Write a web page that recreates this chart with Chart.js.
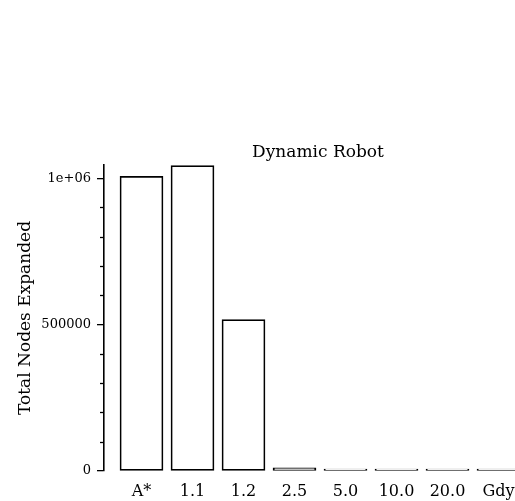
<!DOCTYPE html>
<html>
<head>
<meta charset="utf-8">
<script src="https://cdn.jsdelivr.net/npm/chart.js@4.4.1/dist/chart.umd.min.js"></script>
<style>
  html, body { margin: 0; padding: 0; background: #fff; overflow: hidden; }
  #wrap { width: 515px; height: 501px; overflow: hidden; }
</style>
</head>
<body>
<div id="wrap"><canvas id="chart" width="545" height="501"></canvas></div>
<script>
// chart values
var categories = ['A*', '1.1', '1.2', '2.5', '5.0', '10.0', '20.0', 'Gdy'];
var nodesExpanded = [1006000, 1043000, 517000, 11000, 2500, 2200, 2000, 2000];
var majorTicks = [0, 500000, 1000000];
var minorStep = 100000;

(function(){
    'use strict';

    var ink = '#000';
    var serif = "'DejaVu Serif', serif";

    // y axis sits a little to the left of the first bar; plot runs past the window edge
    var xMin = -0.5 - 12 / 51;
    var xMax = xMin + (535 - 104) / 51;

    var points = nodesExpanded.map(function(v, i){ return { x: i, y: v }; });

    // title and minor ticks
    var extras = {
        id: 'extras',
        afterDraw: function(chart){
            var c = chart.ctx;
            var xs = chart.scales.x, ys = chart.scales.y;
            var axisX = chart.chartArea.left;
            c.save();
            c.strokeStyle = ink;
            c.lineWidth = 1.3;
            for (var v = minorStep; v < ys.max; v += minorStep) {
                if (majorTicks.indexOf(v) !== -1) continue;
                var py = Math.round(ys.getPixelForValue(v)) + 0.5;
                c.beginPath();
                c.moveTo(axisX - 4, py);
                c.lineTo(axisX, py);
                c.stroke();
            }
            c.fillStyle = ink;
            c.font = '17px ' + serif;
            c.textAlign = 'center';
            c.textBaseline = 'middle';
            c.fillText('Dynamic Robot', xs.getPixelForValue((categories.length - 1) / 2) - 2, 153);
            c.restore();
        }
    };

    var ctx = document.getElementById('chart');
    new Chart(ctx.getContext('2d'), {
        type: 'bar',
        data: {
            datasets: [{
                data: points,
                backgroundColor: '#fff',
                borderColor: ink,
                borderWidth: 1.7,
                borderSkipped: false,
                barThickness: 43,
                minBarLength: 2,
                clip: false
            }]
        },
        options: {
            responsive: false,
            animation: false,
            layout: { padding: { top: 165, left: 0, right: 10, bottom: 0 } },
            plugins: {
                legend: { display: false },
                tooltip: { enabled: false },
                title: { display: false }
            },
            scales: {
                x: {
                    type: 'linear',
                    offset: false,
                    min: xMin,
                    max: xMax,
                    grid: { display: false, drawTicks: false, offset: false },
                    border: { display: false },
                    afterBuildTicks: function(scale){
                        scale.ticks = categories.map(function(_, i){ return { value: i }; });
                    },
                    afterFit: function(scale){ scale.height = 30; },
                    ticks: {
                        autoSkip: false,
                        maxRotation: 0,
                        padding: 11,
                        color: ink,
                        font: { family: serif, size: 16 },
                        callback: function(v){ return categories[v]; }
                    }
                },
                y: {
                    min: 0,
                    max: 1045000,
                    afterBuildTicks: function(scale){
                        scale.ticks = majorTicks.map(function(v){ return { value: v }; });
                    },
                    afterFit: function(scale){ scale.width = 104; },
                    grid: { drawOnChartArea: false, tickLength: 7, color: ink, lineWidth: 1.3 },
                    border: { display: true, color: ink, width: 1.6 },
                    ticks: {
                        padding: 6,
                        color: ink,
                        font: { family: serif, size: 13 },
                        callback: function(v){ return v === 1000000 ? '1e+06' : String(v); }
                    },
                    title: {
                        display: true,
                        text: 'Total Nodes Expanded',
                        color: ink,
                        font: { family: serif, size: 17 },
                        padding: { top: 15, bottom: 0 }
                    }
                }
            }
        },
        plugins: [extras]
    });
})();
</script>
</body>
</html>
